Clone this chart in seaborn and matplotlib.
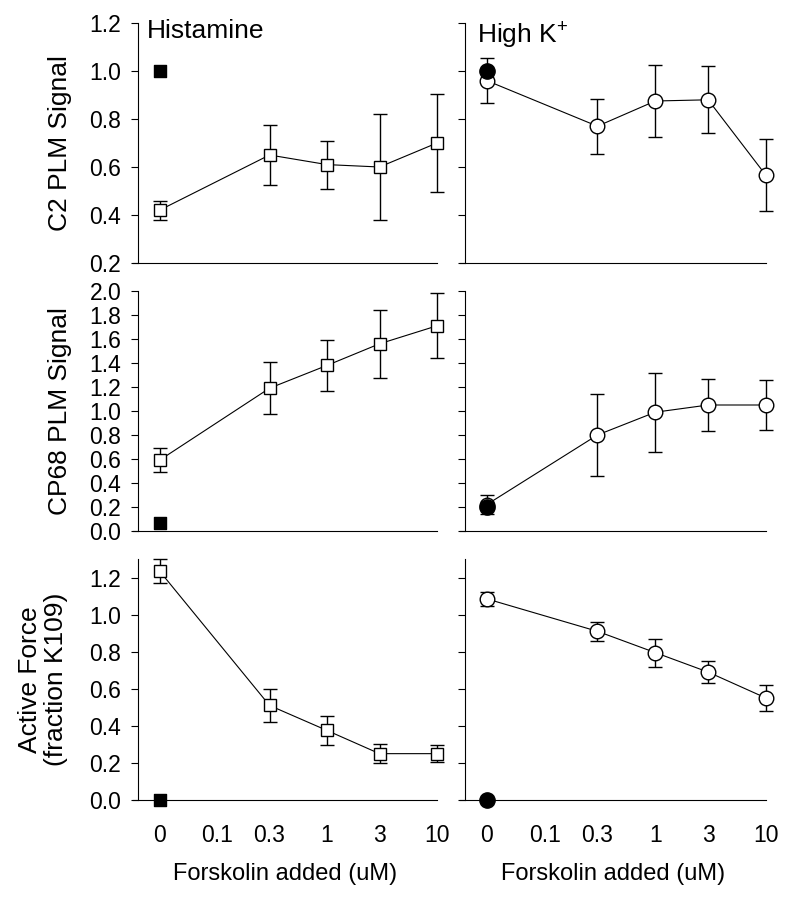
import pandas as pd
import seaborn as sns
import matplotlib.pyplot as plt
from matplotlib.ticker import FixedLocator, NullFormatter, FormatStrFormatter

# forskolin doses (uM); "0" is drawn half a decade left of 0.1 on the log axis
dose = [0, 0.3, 1, 3, 10]
tick_doses = [0, 0.1, 0.3, 1, 3, 10]
tick_labels = ["0", "0.1", "0.3", "1", "3", "10"]
ZERO_X = 0.03

# C2 PLM signal
c2_hist = [0.42, 0.65, 0.61, 0.60, 0.70]
c2_hist_err = [0.04, 0.125, 0.10, 0.22, 0.205]
c2_k = [0.96, 0.77, 0.875, 0.88, 0.565]
c2_k_err = [0.095, 0.115, 0.15, 0.14, 0.15]
c2_ctrl = [1.0, 1.0]          # filled control: histamine, high K

# CP68 PLM signal
cp68_hist = [0.59, 1.19, 1.38, 1.56, 1.71]
cp68_hist_err = [0.10, 0.215, 0.215, 0.285, 0.27]
cp68_k = [0.22, 0.80, 0.99, 1.05, 1.05]
cp68_k_err = [0.08, 0.34, 0.33, 0.22, 0.21]
cp68_ctrl = [0.07, 0.20]

# active force (fraction K109)
force_hist = [1.235, 0.51, 0.375, 0.25, 0.25]
force_hist_err = [0.066, 0.09, 0.077, 0.05, 0.047]
force_k = [1.085, 0.91, 0.795, 0.69, 0.55]
force_k_err = [0.038, 0.05, 0.075, 0.06, 0.068]
force_ctrl = [0.0, 0.0]

sns.set_theme(style="ticks")
plt.rcParams["font.family"] = ["Liberation Sans", "DejaVu Sans"]
plt.rcParams["mathtext.fontset"] = "custom"
plt.rcParams["mathtext.rm"] = "Liberation Sans"
for key in ("text.color", "axes.labelcolor", "xtick.color", "ytick.color", "axes.edgecolor"):
    plt.rcParams[key] = "black"

fig = plt.figure(figsize=(7.95, 9.06), dpi=100)

W, H = 795, 906
def px_axes(x0, x1, top, bottom):
    return fig.add_axes([x0 / W, 1 - bottom / H, (x1 - x0) / W, (bottom - top) / H])

rows = [(23, 263), (291, 531), (559, 800)]
cols = [(133, 437), (460, 766)]
axes = [[px_axes(c[0], c[1], r[0], r[1]) for c in cols] for r in rows]

def to_x(d):
    return ZERO_X if d == 0 else d

def draw(ax, y, err, ctrl, marker, ms):
    x = [to_x(d) for d in dose]
    df = pd.DataFrame({"dose": x, "value": y})
    eb = ax.errorbar(x, y, yerr=err, fmt="none", ecolor="black", elinewidth=1.0,
                     capsize=5, capthick=1.0, zorder=2)
    for part in eb.lines:
        if part is None:
            continue
        items = part if isinstance(part, tuple) else [part]
        for it in items:
            it.set_clip_on(False)
    sns.lineplot(data=df, x="dose", y="value", ax=ax, color="black", lw=0.8,
                 marker=marker, markersize=ms, markerfacecolor="white",
                 markeredgecolor="black", markeredgewidth=1.0, errorbar=None,
                 zorder=3, clip_on=False)
    sns.scatterplot(x=[ZERO_X], y=[ctrl], ax=ax, marker=marker, s=(ms + 0.5) ** 2,
                    color="black", edgecolor="black", linewidth=1.0, zorder=4,
                    clip_on=False)

panels = [
    (c2_hist, c2_hist_err, c2_k, c2_k_err, c2_ctrl, (0.2, 1.2), [0.2, 0.4, 0.6, 0.8, 1.0, 1.2]),
    (cp68_hist, cp68_hist_err, cp68_k, cp68_k_err, cp68_ctrl, (0.0, 2.0),
     [0.0, 0.2, 0.4, 0.6, 0.8, 1.0, 1.2, 1.4, 1.6, 1.8, 2.0]),
    (force_hist, force_hist_err, force_k, force_k_err, force_ctrl, (0.0, 1.3),
     [0.0, 0.2, 0.4, 0.6, 0.8, 1.0, 1.2]),
]
ylabels = ["C2 PLM Signal", "CP68 PLM Signal", "Active Force\n(fraction K109)"]

for i, (yh, eh, yk, ek, ctrl, ylim, yticks) in enumerate(panels):
    for j in range(2):
        ax = axes[i][j]
        ax.set_xscale("log")
        if j == 0:
            draw(ax, yh, eh, ctrl[0], "s", 8.5)
        else:
            draw(ax, yk, ek, ctrl[1], "o", 10.5)
        ax.set_xlim(0.0172, 10)
        ax.set_ylim(*ylim)
        ax.set_yticks(yticks)
        ax.yaxis.set_major_formatter(FormatStrFormatter("%.1f"))
        ax.xaxis.set_major_locator(FixedLocator([to_x(d) for d in tick_doses]))
        ax.xaxis.set_minor_locator(FixedLocator([0.1, 1, 10]))
        ax.xaxis.set_minor_formatter(NullFormatter())
        ax.tick_params(axis="x", which="major", length=0, pad=17, labelsize=16.5)
        ax.tick_params(axis="x", which="minor", length=5, width=0.8, direction="out")
        ax.tick_params(axis="y", length=5, width=0.8, pad=7, labelsize=16.5)
        if i == 2:
            ax.set_xticklabels(tick_labels)
            ax.set_xlabel("Forskolin added (uM)", fontsize=17, labelpad=12)
        else:
            ax.set_xticklabels([])
            ax.set_xlabel("")
        if j == 0:
            ax.set_ylabel(ylabels[i], fontsize=19, linespacing=1.1)
            ax.yaxis.set_label_coords(-0.2 if i < 2 else -0.215, 0.5)
        else:
            ax.set_yticklabels([])
            ax.set_ylabel("")
        sns.despine(ax=ax)
        ax.spines["left"].set_position(("outward", -3.6))
        for s in ("left", "bottom"):
            ax.spines[s].set_linewidth(0.8)
            ax.spines[s].set_color("black")

axes[0][0].text(0.046, 1.015, "Histamine", transform=axes[0][0].transAxes,
                fontsize=19, va="top", ha="left")
axes[0][1].text(0.056, 1.015, "High K$^{+}$", transform=axes[0][1].transAxes,
                fontsize=19, va="top", ha="left")

fig.savefig("out.png", dpi=100, facecolor="white")
